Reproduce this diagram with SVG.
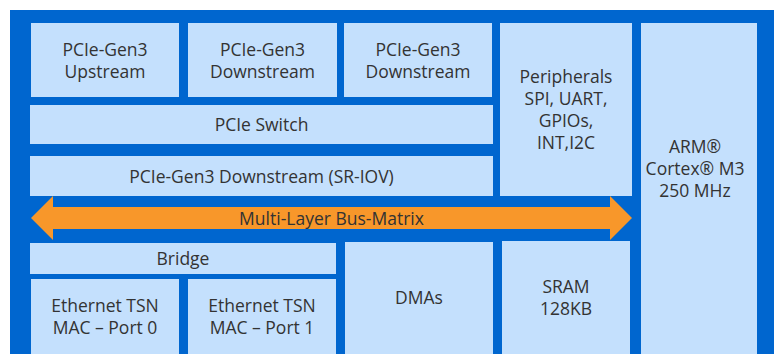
<svg xmlns="http://www.w3.org/2000/svg" width="778" height="354" viewBox="0 0 778 354">
<style>
.b{fill:#C4E0FD}
.t{font-family:"Open Sans","Noto Sans","Liberation Sans",sans-serif;font-size:17.5px;fill:#333333;text-anchor:middle}
</style>
<rect x="0" y="0" width="778" height="354" fill="#ffffff"/>
<rect id="frame" x="10" y="10" width="764" height="344" fill="#0066CF"/>
<g id="pcie-up"><rect class="b" x="31" y="23" width="148" height="74"/><text class="t" x="105" y="56">PCIe-Gen3</text><text class="t" x="105" y="78">Upstream</text></g>
<g id="pcie-down1"><rect class="b" x="188" y="23" width="149" height="74"/><text class="t" x="262.5" y="56">PCIe-Gen3</text><text class="t" x="262.5" y="78">Downstream</text></g>
<g id="pcie-down2"><rect class="b" x="344" y="23" width="148" height="74"/><text class="t" x="418" y="56">PCIe-Gen3</text><text class="t" x="418" y="78">Downstream</text></g>
<g id="peripherals"><rect class="b" x="500" y="23" width="132" height="173"/><text class="t" x="566" y="83">Peripherals</text><text class="t" x="566" y="105">SPI, UART,</text><text class="t" x="566" y="127">GPIOs,</text><text class="t" x="566" y="149">INT,I2C</text></g>
<g id="arm"><rect class="b" x="641" y="23" width="116" height="331"/><text class="t" x="695" y="153">ARM®</text><text class="t" x="695" y="175">Cortex® M3</text><text class="t" x="695" y="197">250 MHz</text></g>
<g id="pcie-switch"><rect class="b" x="30" y="105" width="463" height="39"/><text class="t" x="261.5" y="131">PCIe Switch</text></g>
<g id="pcie-sriov"><rect class="b" x="30" y="156" width="463" height="40"/><text class="t" x="261.5" y="182.5">PCIe-Gen3 Downstream (SR-IOV)</text></g>
<g id="connectors"><g id="bus-matrix"><polygon fill="#F8972A" points="31,218 53,196 53,207 610,207 610,196 632,218 610,240 610,229 53,229 53,240"/><text class="t" x="331.5" y="224.5">Multi-Layer Bus-Matrix</text></g></g>
<g id="bridge"><rect class="b" x="30" y="243" width="306" height="31"/><text class="t" x="183" y="265">Bridge</text></g>
<g id="eth0"><rect class="b" x="31" y="279" width="148" height="75"/><text class="t" x="105" y="312">Ethernet TSN</text><text class="t" x="105" y="334">MAC – Port 0</text></g>
<g id="eth1"><rect class="b" x="188" y="279" width="148" height="75"/><text class="t" x="262" y="312">Ethernet TSN</text><text class="t" x="262" y="334">MAC – Port 1</text></g>
<g id="dmas"><rect class="b" x="345" y="242" width="148" height="112"/><text class="t" x="419" y="304">DMAs</text></g>
<g id="sram"><rect class="b" x="502" y="241" width="128" height="113"/><text class="t" x="566" y="293">SRAM</text><text class="t" x="566" y="315">128KB</text></g>
</svg>
